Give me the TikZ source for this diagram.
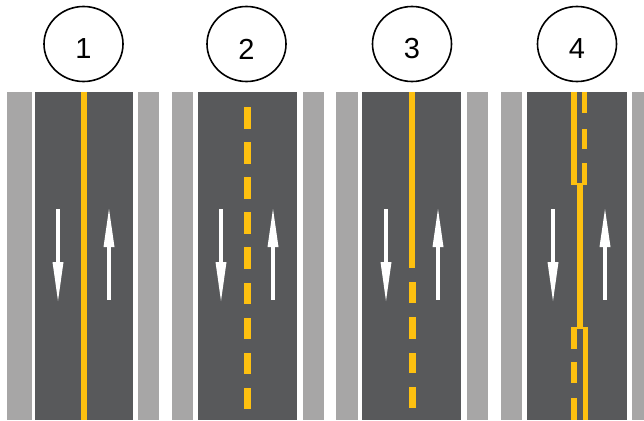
\documentclass[tikz,border=0pt]{standalone}
\usepackage{fontspec}
\setmainfont{Liberation Sans}
\definecolor{asphalt}{HTML}{58595B}
\definecolor{shoulder}{HTML}{A7A6A6}
\definecolor{lineyellow}{HTML}{FDC010}
\begin{document}
\begin{tikzpicture}[x=1pt,y=-1pt,
  numtext/.style={font=\fontsize{29}{30}\selectfont,inner sep=0pt},
  shoulderfill/.style={fill=shoulder},
  roadfill/.style={fill=asphalt},
  yel/.style={fill=lineyellow},
  arrowfill/.style={fill=white}]
\useasboundingbox (0,0) rectangle (644,420);
\fill[white] (0,0) rectangle (644,420);

% circles with numbers
\foreach \cx/\n in {83.5/1,246.5/2,412/3,577/4}{
  \draw[line width=1.6pt] (\cx,44) ellipse [x radius=39.5, y radius=37.5];
  \node[numtext] (num\n) at (\cx,49) {\n};
}

% shoulders and roads
\foreach \sla/\slb/\ra/\rb/\sra/\srb in {7/32/35/133/138/159, 172/193/198/297/303/324, 336/358/362/461/467/488, 501/522/527/627/632/644}{
  \fill[shoulderfill] (\sla,92) rectangle (\slb,420);
  \fill[roadfill] (\ra,92) rectangle (\rb,420);
  \fill[shoulderfill] (\sra,92) rectangle (\srb,420);
}

% arrows
\foreach \dx/\ux in {58/109, 221/273, 386/438, 553/605}{
  % down arrow
  \fill[arrowfill] (\dx-1.6,209) rectangle (\dx+1.6,263);
  \fill[arrowfill] (\dx-5.5,262) -- (\dx+5.5,262) -- (\dx,301) -- cycle;
  % up arrow
  \fill[arrowfill] (\ux-5.5,247) -- (\ux+5.5,247) -- (\ux,209) -- cycle;
  \fill[arrowfill] (\ux-1.6,246) rectangle (\ux+1.6,300);
}

% panel 1: solid line
\fill[yel] (81.2,92) rectangle (86.8,420);

% panel 2: dashed line
\foreach \k in {0,...,8}{
  \fill[yel] (243.5,107+35.1*\k) rectangle (250.5,128.5+35.1*\k);
}

% panel 3: solid then dashed
\fill[yel] (409.2,92) rectangle (414.8,268);
\foreach \a/\b in {282/303, 317/339, 353/373, 387/408}{
  \fill[yel] (408.5,\a) rectangle (415.5,\b);
}

% panel 4: no-passing zones
\fill[yel] (571,92) rectangle (576.5,185);
\foreach \a/\b in {92/113, 129/149, 163/184}{
  \fill[yel] (581.5,\a) rectangle (587,\b);
}
\fill[yel] (571,182.5) rectangle (587,184.5);
\fill[yel] (577,183) rectangle (583,328);
\fill[yel] (571,326.5) rectangle (588,328.5);
\fill[yel] (582.5,327) rectangle (588,420);
\foreach \a/\b in {328/349, 362/383, 398/420}{
  \fill[yel] (571,\a) rectangle (576.5,\b);
}
\end{tikzpicture}
\end{document}
